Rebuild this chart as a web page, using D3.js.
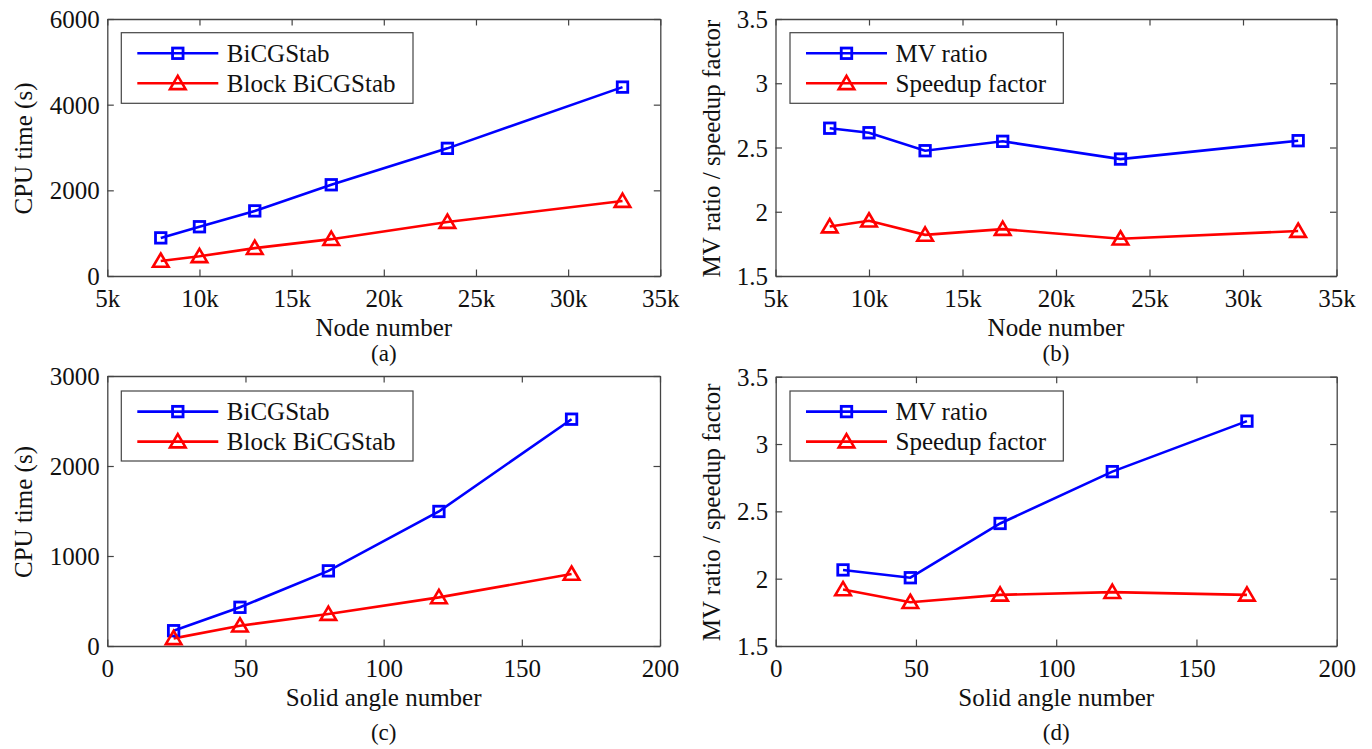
<!DOCTYPE html>
<html>
<head>
<meta charset="utf-8">
<script src="https://cdn.jsdelivr.net/npm/d3@7"></script>
<style>
  html, body { margin: 0; padding: 0; background: #fff; }
  svg { display: block; }
  text { font-family: "Liberation Serif", "Times New Roman", Times, serif; fill: #111; }
</style>
</head>
<body>
<svg id="chart" width="1372" height="749"></svg>
<script>
// ---------------- DATA ----------------
const nodeNumbers = [7900, 10000, 13000, 17150, 23450, 32950];
const cpuBiCGStabByNodes = [890, 1150, 1520, 2130, 2980, 4410];
const cpuBlockByNodes = [350, 460, 650, 860, 1260, 1750];
const mvRatioByNodes = [2.65, 2.615, 2.475, 2.548, 2.41, 2.553];
const speedupByNodes = [1.885, 1.93, 1.82, 1.865, 1.79, 1.85];

const solidAngles = [24, 48, 80, 120, 168];
const cpuBiCGStabByAngles = [170, 430, 835, 1495, 2520];
const cpuBlockByAngles = [85, 225, 355, 540, 800];
const mvRatioByAngles = [2.065, 2.007, 2.41, 2.795, 3.17];
const speedupByAngles = [1.92, 1.825, 1.88, 1.90, 1.88];

const nodeTicks = [5000, 10000, 15000, 20000, 25000, 30000, 35000];
const nodeTickLabels = ["5k", "10k", "15k", "20k", "25k", "30k", "35k"];
const angleTicks = [0, 50, 100, 150, 200];
const cpuTicksA = [0, 2000, 4000, 6000];
const cpuTicksC = [0, 1000, 2000, 3000];
const ratioTicks = [1.5, 2, 2.5, 3, 3.5];
const ratioTickLabels = ["1.5", "2", "2.5", "3", "3.5"];

const legendCPU = ["BiCGStab", "Block BiCGStab"];
const legendRatio = ["MV ratio", "Speedup factor"];
const captions = ["(a)", "(b)", "(c)", "(d)"];

// ---------------- LAYOUT ----------------
const svg = d3.select("#chart");
const BLUE = "#0000ff", RED = "#ff0000", AX = "#444";
const FS = 25, CAPFS = 23;

const panels = [
  { box: [107.3, 660.3, 19, 276], xDom: [5000, 35000], xTicks: nodeTicks, xLabels: nodeTickLabels,
    yDom: [0, 6000], yTicks: cpuTicksA, yLabels: cpuTicksA.map(String),
    x: nodeNumbers, s1: cpuBiCGStabByNodes, s2: cpuBlockByNodes,
    xTitle: "Node number", yTitle: "CPU time (s)", legend: legendCPU, cap: captions[0],
    yTitleX: 32, capDy: 85, legBox: [121.3, 413, 32.7, 103.3] },
  { box: [775.5, 1336.5, 19, 276], xDom: [5000, 35000], xTicks: nodeTicks, xLabels: nodeTickLabels,
    yDom: [1.5, 3.5], yTicks: ratioTicks, yLabels: ratioTickLabels,
    x: nodeNumbers, s1: mvRatioByNodes, s2: speedupByNodes,
    xTitle: "Node number", yTitle: "MV ratio / speedup factor", legend: legendRatio, cap: captions[1],
    yTitleX: 719.5, capDy: 85, legBox: [790, 1063.3, 32.7, 103.3] },
  { box: [107.3, 660, 376, 646], xDom: [0, 200], xTicks: angleTicks, xLabels: angleTicks.map(String),
    yDom: [0, 3000], yTicks: cpuTicksC, yLabels: cpuTicksC.map(String),
    x: solidAngles, s1: cpuBiCGStabByAngles, s2: cpuBlockByAngles,
    xTitle: "Solid angle number", yTitle: "CPU time (s)", legend: legendCPU, cap: captions[2],
    yTitleX: 32, capDy: 94, legBox: [121.3, 413, 391, 461] },
  { box: [775.7, 1336.7, 376.7, 646], xDom: [0, 200], xTicks: angleTicks, xLabels: angleTicks.map(String),
    yDom: [1.5, 3.5], yTicks: ratioTicks, yLabels: ratioTickLabels,
    x: solidAngles, s1: mvRatioByAngles, s2: speedupByAngles,
    xTitle: "Solid angle number", yTitle: "MV ratio / speedup factor", legend: legendRatio, cap: captions[3],
    yTitleX: 719.5, capDy: 94, legBox: [790, 1063.3, 391, 461] }
];

function squareMarker(g, cx, cy, color) {
  const s = 10.5;
  g.append("rect").attr("x", cx - s / 2).attr("y", cy - s / 2).attr("width", s).attr("height", s)
    .attr("fill", "none").attr("stroke", color).attr("stroke-width", 2.8);
}
function triMarker(g, cx, cy, color) {
  const p = d3.path();
  p.moveTo(cx, cy - 7.5); p.lineTo(cx + 7.8, cy + 5.8); p.lineTo(cx - 7.8, cy + 5.8); p.closePath();
  g.append("path").attr("d", p.toString()).attr("fill", "none").attr("stroke", color)
    .attr("stroke-width", 2.6).attr("stroke-linejoin", "miter");
}

panels.forEach(P => {
  const [x0, x1, y0, y1] = P.box;
  const xs = d3.scaleLinear().domain(P.xDom).range([x0, x1]);
  const ys = d3.scaleLinear().domain(P.yDom).range([y1, y0]);
  const g = svg.append("g");

  const fmtX = (d, i) => P.xLabels[i];
  const fmtY = (d, i) => P.yLabels[i];
  const bottom = g.append("g").attr("transform", `translate(0,${y1})`)
    .call(d3.axisBottom(xs).tickValues(P.xTicks).tickFormat(fmtX).tickSizeInner(-6.5).tickSizeOuter(0).tickPadding(13));
  const top = g.append("g").attr("transform", `translate(0,${y0})`)
    .call(d3.axisTop(xs).tickValues(P.xTicks).tickFormat("").tickSizeInner(-6.5).tickSizeOuter(0));
  const left = g.append("g").attr("transform", `translate(${x0},0)`)
    .call(d3.axisLeft(ys).tickValues(P.yTicks).tickFormat(fmtY).tickSizeInner(-6.5).tickSizeOuter(0).tickPadding(7.5));
  const right = g.append("g").attr("transform", `translate(${x1},0)`)
    .call(d3.axisRight(ys).tickValues(P.yTicks).tickFormat("").tickSizeInner(-6.5).tickSizeOuter(0));
  [bottom, top, left, right].forEach(a => {
    a.selectAll("path").attr("stroke", AX).attr("stroke-width", 1.3);
    a.selectAll("line").attr("stroke", AX).attr("stroke-width", 1.2);
    a.selectAll("text").attr("font-size", FS).attr("fill", "#111")
      .style("font-family", '"Liberation Serif", "Times New Roman", serif');
  });
  bottom.selectAll("text").attr("dy", null).attr("y", 31).attr("dominant-baseline", "auto");
  left.selectAll("text").attr("dy", "0.34em");

  g.append("text").attr("x", (x0 + x1) / 2).attr("y", y1 + 59.5).attr("text-anchor", "middle")
    .attr("font-size", FS).text(P.xTitle);
  g.append("text").attr("transform", `translate(${P.yTitleX},${(y0 + y1) / 2 + 1}) rotate(-90)`)
    .attr("text-anchor", "middle").attr("font-size", FS).text(P.yTitle);
  g.append("text").attr("x", (x0 + x1) / 2).attr("y", y1 + P.capDy).attr("text-anchor", "middle")
    .attr("font-size", CAPFS).text(P.cap);

  const line = d3.line().x(d => xs(d[0])).y(d => ys(d[1]));
  const d1 = P.x.map((v, i) => [v, P.s1[i]]);
  const d2 = P.x.map((v, i) => [v, P.s2[i]]);
  g.append("path").datum(d1).attr("d", line).attr("fill", "none").attr("stroke", BLUE).attr("stroke-width", 2.6);
  g.append("path").datum(d2).attr("d", line).attr("fill", "none").attr("stroke", RED).attr("stroke-width", 2.6);
  d1.forEach(d => squareMarker(g, xs(d[0]), ys(d[1]), BLUE));
  d2.forEach(d => triMarker(g, xs(d[0]), ys(d[1]), RED));

  const [lx0, lx1, ly0, ly1] = P.legBox;
  g.append("rect").attr("x", lx0).attr("y", ly0).attr("width", lx1 - lx0).attr("height", ly1 - ly0)
    .attr("fill", "#fff").attr("stroke", AX).attr("stroke-width", 1.2);
  const rows = [ly0 + 20.6, ly0 + 50.6];
  const sx0 = lx0 + 16, sx1 = lx0 + 97, sxm = (sx0 + sx1) / 2, tx = lx0 + 105.5;
  [[BLUE, squareMarker], [RED, triMarker]].forEach(([c, mk], i) => {
    g.append("line").attr("x1", sx0).attr("x2", sx1).attr("y1", rows[i]).attr("y2", rows[i])
      .attr("stroke", c).attr("stroke-width", 2.6);
    mk(g, sxm, rows[i], c);
    g.append("text").attr("x", tx).attr("y", rows[i] + 8.5).attr("font-size", FS).text(P.legend[i]);
  });
});
</script>
</body>
</html>
